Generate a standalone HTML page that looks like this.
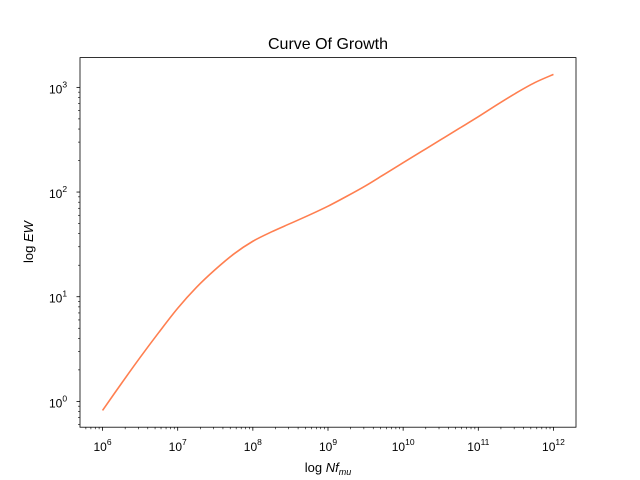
<!DOCTYPE html>
<html><head><meta charset="utf-8"><style>
body{margin:0;background:#fff;}
svg{display:block;font-family:"Liberation Sans","DejaVu Sans",sans-serif;}
</style></head><body>
<svg id="chart" width="640" height="480" viewBox="0 0 640 480">
<rect width="640" height="480" fill="#fff"/>
<text x="328" y="49" font-size="16" text-anchor="middle" fill="#000">Curve Of Growth</text>
<g id="ticks"></g>
<path id="curve" fill="none" stroke="#ff7f50" stroke-width="1.6"/>
<rect x="80" y="57.6" width="496" height="369.6" fill="none" stroke="#000" stroke-width="0.8"/>
<text x="328" y="472" font-size="13" text-anchor="middle">log <tspan font-style="italic">Nf</tspan><tspan font-style="italic" font-size="9" dy="3">mu</tspan></text>
<text x="33" y="242" font-size="13" text-anchor="middle" transform="rotate(-90 33 242)">log <tspan font-style="italic">EW</tspan></text>
</svg>
<script>
const logN = [6, 6.25, 6.5, 6.75, 7, 7.25, 7.5, 7.75, 8, 8.25, 8.5, 8.75, 9, 9.25, 9.5, 9.75, 10, 10.25, 10.5, 10.75, 11, 11.25, 11.5, 11.75, 12];
const logEW = [-0.086, 0.17, 0.42, 0.66, 0.89, 1.09, 1.26, 1.41, 1.53, 1.62, 1.70, 1.78, 1.865, 1.96, 2.06, 2.17, 2.28, 2.39, 2.5, 2.61, 2.72, 2.835, 2.945, 3.045, 3.124];
const xTickExp = [6, 7, 8, 9, 10, 11, 12];
const yTickExp = [0, 1, 2, 3];

const X0=80, X1=576, Y0=427.2, Y1=57.6;
const xmin=Math.min(...logN), xmax=Math.max(...logN), xr=xmax-xmin;
const ymin=Math.min(...logEW), ymax=Math.max(...logEW), yr=ymax-ymin;
const xlo=xmin-0.05*xr, xhi=xmax+0.05*xr, ylo=ymin-0.05*yr, yhi=ymax+0.05*yr;
const sx=v=>X0+(v-xlo)/(xhi-xlo)*(X1-X0);
const sy=v=>Y0-(v-ylo)/(yhi-ylo)*(Y0-Y1);

const NS="http://www.w3.org/2000/svg";
const g=document.getElementById('ticks');
function mk(tag,attrs){const e=document.createElementNS(NS,tag);for(const k in attrs)e.setAttribute(k,attrs[k]);g.appendChild(e);return e;}

for(let d=Math.floor(xlo); d<=Math.ceil(xhi); d++){
  for(let m=1;m<10;m++){
    const v=d+Math.log10(m);
    if(v<xlo||v>xhi) continue;
    const x=sx(v), major=m===1;
    const t=mk('line',{x1:x,x2:x,y1:Y0,y2:Y0+(major?3.5:2),stroke:'#000','stroke-width':major?0.8:0.6});
    
    
  }
}
xTickExp.forEach(e=>{
  const x=sx(e);
  const t=mk('text',{x:x,y:Y0+24,'font-size':'12','text-anchor':'middle'});
  t.innerHTML='10<tspan font-size="8.5" dy="-6">'+e+'</tspan>';
  
  
});
for(let d=Math.floor(ylo); d<=Math.ceil(yhi); d++){
  for(let m=1;m<10;m++){
    const v=d+Math.log10(m);
    if(v<ylo||v>yhi) continue;
    const y=sy(v), major=m===1;
    const t=mk('line',{x1:X0,x2:X0-(major?3.5:2),y1:y,y2:y,stroke:'#000','stroke-width':major?0.8:0.6});
    
    
  }
}
yTickExp.forEach(e=>{
  const y=sy(e);
  const t=mk('text',{x:X0-22,y:y+6,'font-size':'12','text-anchor':'middle'});
  t.innerHTML='10<tspan font-size="8.5" dy="-6">'+e+'</tspan>';
  
  
});

const P=logN.map((v,i)=>[sx(v),sy(logEW[i])]);
let d='M'+P[0][0]+','+P[0][1];
for(let i=0;i<P.length-1;i++){
  const p0=P[Math.max(0,i-1)],p1=P[i],p2=P[i+1],p3=P[Math.min(P.length-1,i+2)];
  const c1=[p1[0]+(p2[0]-p0[0])/6,p1[1]+(p2[1]-p0[1])/6];
  const c2=[p2[0]-(p3[0]-p1[0])/6,p2[1]-(p3[1]-p1[1])/6];
  d+=' C'+c1+' '+c2+' '+p2;
}
document.getElementById('curve').setAttribute('d',d);
</script>
</body></html>
